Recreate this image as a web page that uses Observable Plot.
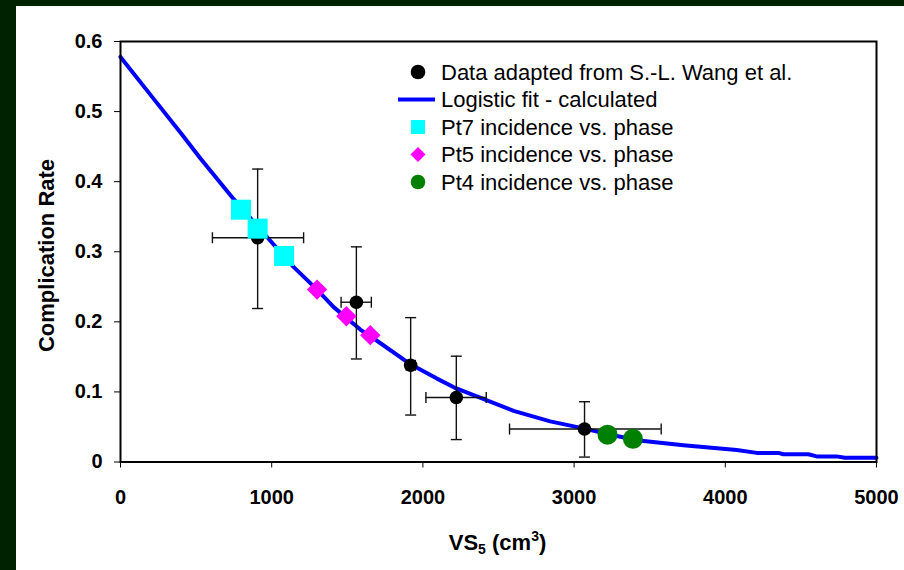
<!DOCTYPE html>
<html>
<head>
<meta charset="utf-8">
<script src="https://cdn.jsdelivr.net/npm/d3@7"></script>
<script src="https://cdn.jsdelivr.net/npm/@observablehq/plot@0.6"></script>
<style>
  html, body { margin: 0; padding: 0; background: #002200; width: 904px; height: 570px; overflow: hidden; }
  #chart { position: absolute; left: 16px; top: 6px; }
</style>
</head>
<body>
<div id="chart"></div>
<script>
// ---- Data ----
const wangX   = [907, 1560, 1919, 2221, 3069];
const wangY   = [0.320, 0.228, 0.138, 0.092, 0.047];
const wangYLo = [0.219, 0.147, 0.067, 0.032, 0.007];
const wangYHi = [0.418, 0.307, 0.206, 0.151, 0.086];
const wangXLo = [608, 1459, 1890, 2020, 2573];
const wangXHi = [1211, 1659, 1950, 2419, 3576];

const fitX = [0, 209, 400, 529, 749, 969, 1146, 1300, 1410, 1586, 1696, 1921, 2093, 2221, 2424, 2600, 2842, 3062, 3221, 3415, 3723, 4076, 4208, 4351, 4384, 4549, 4604, 4736, 4791, 5000];
const fitY = [0.578, 0.521, 0.469, 0.433, 0.375, 0.321, 0.278, 0.246, 0.221, 0.189, 0.173, 0.139, 0.119, 0.105, 0.088, 0.073, 0.058, 0.048, 0.040, 0.031, 0.024, 0.017, 0.013, 0.013, 0.011, 0.011, 0.008, 0.008, 0.006, 0.006];

const pt7X = [797, 907, 1082];
const pt7Y = [0.360, 0.333, 0.294];
const pt5X = [1300, 1494, 1652];
const pt5Y = [0.246, 0.208, 0.181];
const pt4X = [3221, 3389];
const pt4Y = [0.039, 0.033];

const xTicks = [0, 1000, 2000, 3000, 4000, 5000];
const yTicks = [0, 0.1, 0.2, 0.3, 0.4, 0.5, 0.6];

const legendLabels = [
  "Data adapted from S.-L. Wang et al.",
  "Logistic fit - calculated",
  "Pt7 incidence vs. phase",
  "Pt5 incidence vs. phase",
  "Pt4 incidence vs. phase"
];
const legendKinds = ["circle", "line", "square", "diamond", "circle"];
const legendColors = ["#000000", "#0000FF", "#00FFFF", "#FF00FF", "#008000"];

// ---- Tables ----
const wang = wangX.map((x, i) => ({x, y: wangY[i], ylo: wangYLo[i], yhi: wangYHi[i], xlo: wangXLo[i], xhi: wangXHi[i]}));
const fit = fitX.map((x, i) => ({x, y: fitY[i]}));
const pt7 = pt7X.map((x, i) => ({x, y: pt7Y[i]}));
const pt5 = pt5X.map((x, i) => ({x, y: pt5Y[i]}));
const pt4 = pt4X.map((x, i) => ({x, y: pt4Y[i]}));

const hCap = {draw(ctx) { ctx.moveTo(-5.5, 0); ctx.lineTo(5.5, 0); }};
const vCap = {draw(ctx) { ctx.moveTo(0, -5.5); ctx.lineTo(0, 5.5); }};

const FONT = "'Liberation Sans', Arial, sans-serif";
const W = 888, H = 564;
const plot = Plot.plot({
  width: W, height: H,
  marginLeft: 104, marginRight: 28, marginTop: 35, marginBottom: 108.5,
  x: {domain: [0, 5000]},
  y: {domain: [0, 0.6]},
  style: {background: "white", color: "black", fontFamily: FONT, fontSize: "20px", fontWeight: "bold", overflow: "visible"},
  marks: [
    Plot.axisX({ticks: xTicks, tickFormat: d3.format("d"), tickSize: 6, tickPadding: 22, label: null}),
    Plot.axisY({ticks: yTicks, tickFormat: d => d === 0 ? "0" : d.toFixed(1), tickSize: 6, tickPadding: 12, label: null}),
    Plot.line(fit, {x: "x", y: "y", stroke: "#0000FF", strokeWidth: 4}),
    Plot.ruleX(wang, {x: "x", y1: "ylo", y2: "yhi", stroke: "#111", strokeWidth: 1.4}),
    Plot.ruleY(wang, {y: "y", x1: "xlo", x2: "xhi", stroke: "#111", strokeWidth: 1.4}),
    Plot.dot(wang, {x: "x", y: "ylo", symbol: hCap, stroke: "#111", fill: "none", strokeWidth: 1.4}),
    Plot.dot(wang, {x: "x", y: "yhi", symbol: hCap, stroke: "#111", fill: "none", strokeWidth: 1.4}),
    Plot.dot(wang, {x: "xlo", y: "y", symbol: vCap, stroke: "#111", fill: "none", strokeWidth: 1.4}),
    Plot.dot(wang, {x: "xhi", y: "y", symbol: vCap, stroke: "#111", fill: "none", strokeWidth: 1.4}),
    Plot.dot(wang, {x: "x", y: "y", r: 6.8, fill: "black"}),
    Plot.dot(pt7, {x: "x", y: "y", symbol: "square", r: 11.3, fill: "#00FFFF"}),
    Plot.dot(pt5, {x: "x", y: "y", symbol: "diamond2", r: 9.2, fill: "#FF00FF"}),
    Plot.dot(pt4, {x: "x", y: "y", r: 10, fill: "#008000"}),
    Plot.frame({stroke: "black", strokeWidth: 2})
  ]
});
document.getElementById("chart").appendChild(plot);

const svg = d3.select(plot);

// ---- Axis titles (rich text with sub/superscripts) ----
svg.append("text")
  .attr("transform", "translate(38,249.5) rotate(-90)")
  .attr("text-anchor", "middle")
  .style("font-size", "22px").attr("font-weight", "bold")
  .text("Complication Rate");

const xt = svg.append("text")
  .attr("x", 481.5).attr("y", 543.5)
  .attr("text-anchor", "middle")
  .style("font-size", "22px").attr("font-weight", "bold");
xt.append("tspan").text("VS");
xt.append("tspan").style("font-size", "14px").attr("dy", 4).text("5");
xt.append("tspan").attr("dy", -4).text(" (cm");
xt.append("tspan").style("font-size", "14px").attr("dy", -9).text("3");
xt.append("tspan").attr("dy", 9).text(")");

// ---- Legend ----
const lg = svg.append("g").attr("font-weight", "normal").style("font-size", "22px").attr("text-anchor", "start");
const rowY = i => 66 + i * 27.5;
legendLabels.forEach((label, i) => {
  const cy = rowY(i), cx = 402, c = legendColors[i], k = legendKinds[i];
  if (k === "circle") lg.append("circle").attr("cx", cx).attr("cy", cy).attr("r", 7.3).attr("fill", c);
  else if (k === "line") lg.append("line").attr("x1", 382).attr("x2", 419).attr("y1", cy).attr("y2", cy).attr("stroke", c).attr("stroke-width", 4);
  else if (k === "square") lg.append("rect").attr("x", cx - 7).attr("y", cy - 7).attr("width", 14).attr("height", 14).attr("fill", c);
  else if (k === "diamond") lg.append("path").attr("d", `M${cx},${cy - 7.5}L${cx + 7.5},${cy}L${cx},${cy + 7.5}L${cx - 7.5},${cy}Z`).attr("fill", c);
  lg.append("text").attr("x", 425).attr("y", cy).attr("dy", "0.36em").attr("text-anchor", "start").attr("fill", "black").text(label);
});
</script>
</body>
</html>
